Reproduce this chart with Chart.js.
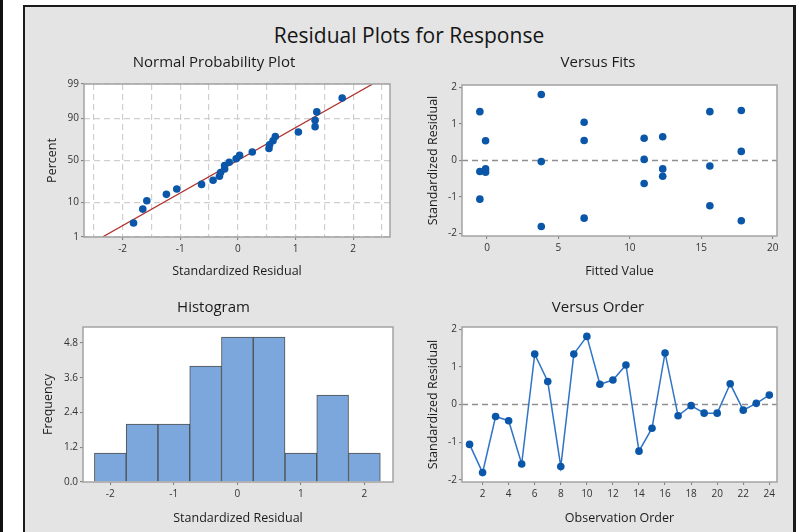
<!DOCTYPE html>
<html>
<head>
<meta charset="utf-8">
<script src="https://cdn.jsdelivr.net/npm/chart.js@4.4.1/dist/chart.umd.min.js"></script>
<style>
  html, body { margin: 0; padding: 0; background: #ffffff; width: 800px; height: 532px; overflow: hidden; position: relative; font-family: 'Open Sans', 'Noto Sans', sans-serif; }
  #edge { position: absolute; left: 0; top: 0; width: 3px; height: 532px; background: #111111; }
  #frame { position: absolute; left: 23px; top: 5px; width: 768px; height: 560px; background: #e4e4e4;
           border-left: 2px solid #1a1a1a; border-top: 2px solid #1a1a1a; border-right: 3px solid #1a1a1a; }
  #title { position: absolute; left: 0; width: 818px; top: 22px; text-align: center; font-size: 21px; line-height: 26px; color: #151515; font-weight: 500; }
  canvas { position: absolute; }
</style>
</head>
<body>
<div id="edge"></div>
<div id="frame"></div>
<div id="title">Residual Plots for Response</div>
<canvas id="prob"></canvas>
<canvas id="fits"></canvas>
<canvas id="hist"></canvas>
<canvas id="order"></canvas>
<script>
// ---- data ----------------------------------------------------------------
const observationOrder = [1, 2, 3, 4, 5, 6, 7, 8, 9, 10, 11, 12, 13, 14, 15, 16, 17, 18, 19, 20, 21, 22, 23, 24];
const residuals = [-1.06, -1.81, -0.32, -0.43, -1.58, 1.34, 0.61, -1.65, 1.34, 1.81, 0.54, 0.65,
                   1.05, -1.24, -0.63, 1.37, -0.30, -0.03, -0.23, -0.23, 0.55, -0.15, 0.03, 0.25];
const fittedValues = [-0.5, 3.8, -0.1, 12.3, 6.8, -0.5, 11.0, 17.8, 15.6, 3.8, -0.1, 12.3,
                      6.8, 15.6, 11.0, 17.8, -0.5, 3.8, -0.1, 12.3, 6.8, 15.6, 11.0, 17.8];

const histBinCenters = [-2, -1.5, -1, -0.5, 0, 0.5, 1, 1.5, 2];
const histCounts = [1, 2, 2, 4, 5, 5, 1, 3, 1];

const probTickPercents = [1, 10, 50, 90, 99];
const probGridValues = [-2.5, -2, -1.5, -1, -0.5, 0, 0.5, 1, 1.5, 2, 2.5];
const fitTicks = [0, 5, 10, 15, 20];
const residualTicks = [-2, -1, 0, 1, 2];
const freqTicks = [0, 1.2, 2.4, 3.6, 4.8];
const orderTicks = [2, 4, 6, 8, 10, 12, 14, 16, 18, 20, 22, 24];

// ---- styling ---------------------------------------------------------------
const FONT = "'Open Sans', 'Noto Sans', sans-serif";
const INK = '#1b1b1b';
const TICK_INK = '#333333';
const TICK_MARK = '#7a7a7a';
const DOT = '#0a56a8';
const SUB_FONT = { family: FONT, size: 15, weight: 'normal', lineHeight: 1.2 };
const AXIS_FONT = { family: FONT, size: 12.5, weight: 'normal', lineHeight: 1.2 };
const TICK_FONT = { family: FONT, size: 10, weight: 'normal', lineHeight: 1.2 };
const SUB_LH = 18, AXIS_LH = 15;

// inverse of the standard normal CDF (Acklam)
function qnorm(p) {
  const a = [-3.969683028665376e+01, 2.209460984245205e+02, -2.759285104469687e+02, 1.383577518672690e+02, -3.066479806614716e+01, 2.506628277459239e+00];
  const b = [-5.447609879822406e+01, 1.615858368580409e+02, -1.556989798598866e+02, 6.680131188771972e+01, -1.328068155288572e+01];
  const c = [-7.784894002430293e-03, -3.223964580411365e-01, -2.400758277161838e+00, -2.549732539343734e+00, 4.374664141464968e+00, 2.938163982698783e+00];
  const d = [7.784695709041462e-03, 3.224671290700398e-01, 2.445134137142996e+00, 3.754408661907416e+00];
  const pl = 0.02425, ph = 1 - pl;
  let q, r;
  if (p < pl) {
    q = Math.sqrt(-2 * Math.log(p));
    return (((((c[0] * q + c[1]) * q + c[2]) * q + c[3]) * q + c[4]) * q + c[5]) / ((((d[0] * q + d[1]) * q + d[2]) * q + d[3]) * q + 1);
  }
  if (p > ph) {
    q = Math.sqrt(-2 * Math.log(1 - p));
    return -(((((c[0] * q + c[1]) * q + c[2]) * q + c[3]) * q + c[4]) * q + c[5]) / ((((d[0] * q + d[1]) * q + d[2]) * q + d[3]) * q + 1);
  }
  q = p - 0.5; r = q * q;
  return (((((a[0] * r + a[1]) * r + a[2]) * r + a[3]) * r + a[4]) * r + a[5]) * q / (((((b[0] * r + b[1]) * r + b[2]) * r + b[3]) * r + b[4]) * r + 1);
}

// white plotting area with a grey frame
const plotFrame = {
  id: 'plotFrame',
  beforeDraw(chart) {
    const { ctx, chartArea: a } = chart;
    ctx.save();
    ctx.fillStyle = '#ffffff';
    ctx.fillRect(a.left, a.top, a.right - a.left, a.bottom - a.top);
    ctx.restore();
  },
  afterDraw(chart) {
    const { ctx, chartArea: a } = chart;
    ctx.save();
    ctx.strokeStyle = '#a3a3a3';
    ctx.lineWidth = 1.5;
    ctx.strokeRect(a.left, a.top, a.right - a.left, a.bottom - a.top);
    ctx.restore();
  }
};

// page placement of each panel: plot box, subtitle and axis-title centres
const PANELS = {
  prob:  { l: 84,  t: 84,  r: 390, b: 237, subX: 237, subY: 63,  xTitleY: 271, yTitleX: 52 },
  fits:  { l: 462, t: 85,  r: 777, b: 236, subX: 619, subY: 63,  xTitleY: 271, yTitleX: 433 },
  hist:  { l: 83,  t: 327, r: 393, b: 482, subX: 238, subY: 308, xTitleY: 518, yTitleX: 48 },
  order: { l: 462, t: 327, r: 777, b: 482, subX: 619, subY: 308, xTitleY: 518, yTitleX: 433 }
};

function geometry(g) {
  const cl = Math.floor(g.yTitleX - 14);
  const cr = Math.round(2 * g.subX - cl);
  const ct = Math.floor(g.subY - 14);
  const cb = Math.ceil(g.xTitleY + 12);
  return {
    cl, ct, cw: cr - cl, ch: cb - ct,
    yWidth: g.l - cl, xHeight: cb - g.b, padRight: cr - g.r,
    subPadTop: g.subY - ct - SUB_LH / 2, subPadBottom: g.t - g.subY - SUB_LH / 2,
    yTitlePad: g.yTitleX - cl - AXIS_LH / 2, xTitlePad: cb - g.xTitleY - AXIS_LH / 2
  };
}

function axis(o, L, horizontal) {
  return {
    type: 'linear', min: o.min, max: o.max, offset: false,
    afterBuildTicks: s => { s.ticks = o.ticks.map(v => ({ value: v })); },
    afterFit: s => { if (horizontal) { s.height = L.xHeight; } else { s.width = L.yWidth; } },
    border: { display: false, dash: o.gridDash || [] },
    grid: {
      display: true, offset: false,
      drawOnChartArea: !!o.gridColor, color: o.gridColor || 'rgba(0,0,0,0)', lineWidth: 1.2,
      drawTicks: true, tickLength: 3, tickWidth: 1, tickColor: o.tickColor || TICK_MARK
    },
    ticks: {
      autoSkip: false, maxRotation: 0, minRotation: 0, padding: horizontal ? 3 : 2,
      color: TICK_INK, font: TICK_FONT, callback: o.label || (v => String(v))
    },
    title: {
      display: true, text: o.title, color: INK, font: AXIS_FONT,
      padding: horizontal ? { top: 0, bottom: L.xTitlePad } : { top: L.yTitlePad, bottom: 0 }
    }
  };
}

function panel(id, type, title, datasets, xOpt, yOpt) {
  const L = geometry(PANELS[id]);
  const cv = document.getElementById(id);
  cv.width = L.cw; cv.height = L.ch;
  cv.style.left = L.cl + 'px'; cv.style.top = L.ct + 'px';
  cv.style.width = L.cw + 'px'; cv.style.height = L.ch + 'px';
  return new Chart(cv, {
    type,
    data: { datasets },
    options: {
      responsive: false, animation: false, devicePixelRatio: 1,
      layout: { padding: { left: 0, top: 0, bottom: 0, right: L.padRight } },
      plugins: {
        legend: { display: false }, tooltip: { enabled: false },
        title: { display: true, text: title, color: INK, font: SUB_FONT,
                 padding: { top: L.subPadTop, bottom: L.subPadBottom } }
      },
      scales: { x: axis(xOpt, L, true), y: axis(yOpt, L, false) }
    },
    plugins: [plotFrame]
  });
}

// ---- Normal probability plot ---------------------------------------------
const n = residuals.length;
const sortedRes = residuals.slice().sort((p, q) => p - q);
const probPoints = sortedRes.map((v, i) => ({ x: v, y: qnorm((i + 1 - 0.3) / (n + 0.4)) }));
const mean = residuals.reduce((s, v) => s + v, 0) / n;
const sd = Math.sqrt(residuals.reduce((s, v) => s + (v - mean) * (v - mean), 0) / (n - 1));
const zLow = qnorm(probTickPercents[0] / 100);
const zHigh = qnorm(probTickPercents[probTickPercents.length - 1] / 100);

panel('prob', 'scatter', 'Normal Probability Plot', [
  { data: probPoints, pointRadius: 3.8, pointBackgroundColor: DOT, pointBorderWidth: 0 },
  { data: [{ x: mean + sd * zLow, y: zLow }, { x: mean + sd * zHigh, y: zHigh }],
    showLine: true, borderColor: '#b0302c', borderWidth: 1.3, pointRadius: 0 }
], {
  min: -2.67, max: 2.64, ticks: probGridValues, title: 'Standardized Residual',
  gridColor: '#cfcfcf', gridDash: [6, 4],
  tickColor: c => Number.isInteger(c.tick.value) ? TICK_MARK : 'rgba(0,0,0,0)',
  label: v => Number.isInteger(v) ? String(v) : ''
}, {
  min: zLow, max: zHigh, ticks: probTickPercents.map(p => qnorm(p / 100)), title: 'Percent',
  gridColor: '#cfcfcf', gridDash: [6, 4],
  label: (v, i) => String(probTickPercents[i])
});

// ---- Versus fits -----------------------------------------------------------
const fitsRange = [-1.75, 20.3];
panel('fits', 'scatter', 'Versus Fits', [
  { data: fittedValues.map((f, i) => ({ x: f, y: residuals[i] })),
    pointRadius: 3.8, pointBackgroundColor: DOT, pointBorderWidth: 0 },
  { data: [{ x: fitsRange[0], y: 0 }, { x: fitsRange[1], y: 0 }], showLine: true,
    borderColor: '#8f8f8f', borderWidth: 1.5, borderDash: [6, 4], pointRadius: 0 }
], { min: fitsRange[0], max: fitsRange[1], ticks: fitTicks, title: 'Fitted Value' },
   { min: -2.07, max: 2.07, ticks: residualTicks, title: 'Standardized Residual' });

// ---- Histogram -------------------------------------------------------------
panel('hist', 'bar', 'Histogram', [
  { data: histBinCenters.map((c, i) => ({ x: c, y: histCounts[i] })),
    backgroundColor: '#7ca7dc', borderColor: '#4f4f4f', borderWidth: 1,
    barPercentage: 1, categoryPercentage: 1 }
], { min: -2.43, max: 2.45, ticks: residualTicks, title: 'Standardized Residual' },
   { min: 0, max: 5.35, ticks: freqTicks, title: 'Frequency', label: v => v.toFixed(1) });

// ---- Versus order ----------------------------------------------------------
const orderRange = [0.42, 24.59];
panel('order', 'scatter', 'Versus Order', [
  { data: observationOrder.map((o, i) => ({ x: o, y: residuals[i] })), showLine: true,
    borderColor: '#2f74c6', borderWidth: 1.5,
    pointRadius: 3.8, pointBackgroundColor: DOT, pointBorderWidth: 0 },
  { data: [{ x: orderRange[0], y: 0 }, { x: orderRange[1], y: 0 }], showLine: true,
    borderColor: '#8f8f8f', borderWidth: 1.5, borderDash: [6, 4], pointRadius: 0 }
], { min: orderRange[0], max: orderRange[1], ticks: orderTicks, title: 'Observation Order' },
   { min: -2.06, max: 2.06, ticks: residualTicks, title: 'Standardized Residual' });
</script>
</body>
</html>
